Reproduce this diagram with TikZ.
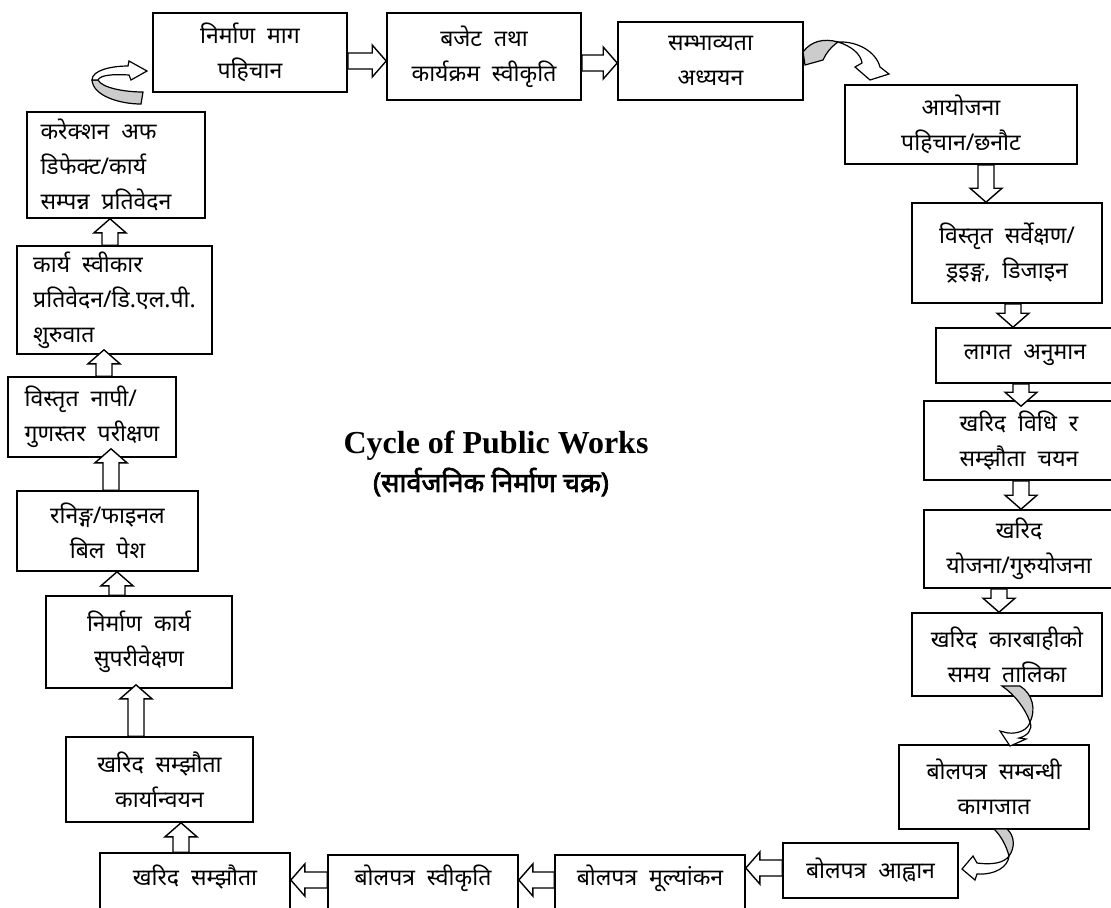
\documentclass[tikz,border=0pt]{standalone}
\usepackage{fontspec}
\setmainfont{Liberation Serif}
\newfontfamily\devfont[Script=Devanagari, WordSpace=2]{Noto Sans}
\newfontfamily\devbold[Script=Devanagari, FakeBold=2.5]{Noto Sans}
\usetikzlibrary{calc, fit}

\tikzset{
  box/.style={draw, line width=0.8pt, inner sep=0pt},
  boxtext/.style={align=center, font=\devfont\fontsize{11.5}{17.5}\selectfont},
  hollowarrow/.style={draw, line width=0.7pt, fill=white, line join=miter},
  curlback/.style={draw, line width=0.6pt, fill=gray!40},
  curlfront/.style={draw, line width=0.6pt, fill=white}
}

% hollow block arrow from #1 to the tip #2
\newcommand{\blockarr}[2]{%
  \coordinate (ba-s) at #1;
  \coordinate (ba-e) at #2;
  \coordinate (ba-h) at ($(ba-e)!7pt!(ba-s)$);
  \draw[hollowarrow] ($(ba-s)!4pt!90:(ba-e)$) -- ($(ba-h)!4pt!90:(ba-e)$)
    -- ($(ba-h)!8pt!90:(ba-e)$) -- (ba-e) -- ($(ba-h)!8pt!-90:(ba-e)$)
    -- ($(ba-h)!4pt!-90:(ba-e)$) -- ($(ba-s)!4pt!-90:(ba-e)$) -- cycle;}

\begin{document}
\begin{tikzpicture}[x=0.5pt, y=-0.5pt]
\useasboundingbox (0,0) rectangle (1111,907);

%top row
\node[box, fit={(153,13) (347,92)}, label={[boxtext]center:{निर्माण माग\\पहिचान}}] (b1) {};
\node[box, fit={(387,13) (581,100)}, label={[boxtext]center:{बजेट तथा\\कार्यक्रम स्वीकृति}}] (b2) {};
\node[box, fit={(618,22) (803,100)}, label={[boxtext]center:{सम्भाव्यता\\अध्ययन}}] (b3) {};

%right column
\node[box, fit={(845,85) (1077,164)}, label={[boxtext]center:{आयोजना\\पहिचान/छनौट}}] (r1) {};
\node[box, fit={(912,203) (1102,303)}, label={[boxtext]center:{विस्तृत सर्वेक्षण/\\ड्रइङ्ग, डिजाइन}}] (r2) {};
\node[box, fit={(936,328) (1114,383)}, label={[boxtext]center:{लागत अनुमान}}] (r3) {};
\node[box, fit={(924,401) (1114,480)}, label={[boxtext]center:{खरिद विधि र\\सम्झौता चयन}}] (r4) {};
\node[box, fit={(924,510) (1114,588)}, label={[boxtext]center:{खरिद\\योजना/गुरुयोजना}}] (r5) {};
\node[box, fit={(912,613) (1102,696)}, label={[boxtext]center:{खरिद कारबाहीको\\समय तालिका}}] (r6) {};
\node[box, fit={(899,745) (1089,829)}, label={[boxtext]center:{बोलपत्र सम्बन्धी\\कागजात}}] (r7) {};

%bottom row
\node[box, fit={(783,843) (958,898)}, label={[boxtext]center:{बोलपत्र आह्वान}}] (l1) {};
\node[box, fit={(555,855) (745,910)}, label={[boxtext, yshift=2pt]center:{बोलपत्र मूल्यांकन}}] (l2) {};
\node[box, fit={(328,855) (518,910)}, label={[boxtext, yshift=2pt]center:{बोलपत्र स्वीकृति}}] (l3) {};
\node[box, fit={(100,853) (290,910)}, label={[boxtext, yshift=2pt]center:{खरिद सम्झौता}}] (l4) {};

%left column
\node[box, fit={(66,737) (253,822)}, label={[boxtext]center:{खरिद सम्झौता\\कार्यान्वयन}}] (c1) {};
\node[box, fit={(46,596) (232,688)}, label={[boxtext]center:{निर्माण कार्य\\सुपरीवेक्षण}}] (c2) {};
\node[box, fit={(17,491) (198,571)}, label={[boxtext]center:{रनिङ्ग/फाइनल\\बिल पेश}}] (c3) {};
\node[box, fit={(8,377) (176,457)}, label={[boxtext, align=left]center:{विस्तृत नापी/\\गुणस्तर परीक्षण}}] (c4) {};
\node[box, fit={(17,246) (212,354)}, label={[boxtext, align=left]center:{कार्य स्वीकार\\प्रतिवेदन/डि.एल.पी.\\शुरुवात}}] (c5) {};
\node[box, fit={(27,112) (205,218)}, label={[boxtext, align=left, xshift=-5pt]center:{करेक्शन अफ\\डिफेक्ट/कार्य\\सम्पन्न प्रतिवेदन}}] (c6) {};

\node[font=\bfseries\fontsize{16}{19}\selectfont] (title) at (496,446) {Cycle of Public Works};
\node[font=\devbold\fontsize{13.5}{16}\selectfont] (subtitle) at (491,482) {(सार्वजनिक निर्माण चक्र)};

%block arrows
\blockarr{(b1.east |- 0,61)}{(b2.west |- 0,61)}
\blockarr{(b2.east |- 0,63)}{(b3.west |- 0,63)}
\blockarr{(r1.south -| 986,0)}{(r2.north -| 986,0)}
\blockarr{(r2.south -| 1013,0)}{(r3.north -| 1013,0)}
\blockarr{(r3.south -| 1021,0)}{($(r4.north -| 1021,0)+(0,6)$)}
\blockarr{(r4.south -| 1021,0)}{(r5.north -| 1021,0)}
\blockarr{(r5.south -| 999,0)}{(r6.north -| 999,0)}
\blockarr{(l1.west |- 0,868)}{(l2.east |- 0,868)}
\blockarr{(l2.west |- 0,880)}{(l3.east |- 0,880)}
\blockarr{(l3.west |- 0,880)}{(l4.east |- 0,880)}
\blockarr{(l4.north -| 181,0)}{(c1.south -| 181,0)}
\blockarr{(c1.north -| 136,0)}{($(c2.south -| 136,0)+(0,-4)$)}
\blockarr{(c2.north -| 117,0)}{(c3.south -| 117,0)}
\blockarr{(c3.north -| 111,0)}{($(c4.south -| 111,0)+(0,-9)$)}
\blockarr{(c4.north -| 104,0)}{($(c5.south -| 104,0)+(0,-5)$)}
\blockarr{(c5.north -| 110,0)}{(c6.south -| 110,0)}

%curved arrows
\draw[curlback] (803,52) .. controls (811,41) and (824,38) .. (838,42) .. controls (831,47) and (826,53) .. (823,60) -- (805,65) -- cycle;
\draw[curlfront] (838,42) .. controls (851,46) and (861,54) .. (862,63) -- (855,67) -- (870,80) -- (889,74) -- (880,67) .. controls (876,52) and (858,41) .. (838,42) -- cycle;

\draw[curlback] (143,92) .. controls (125,92) and (102,88) .. (98,80) -- (92,80) .. controls (93,96) and (120,104) .. (141,104) -- cycle;
\draw[curlfront] (92,80) .. controls (92,70) and (112,66) .. (128,66) -- (129,61) -- (147,71) -- (131,80) -- (129,75) .. controls (113,74) and (100,75) .. (98,80) -- cycle;

\draw[curlback] (1002,686) -- (1020,686) .. controls (1033,694) and (1036,710) .. (1030,722) .. controls (1025,708) and (1014,694) .. (1002,686) -- cycle;
\draw[curlfront] (1030,722) .. controls (1028,730) and (1018,734) .. (1008,733) -- (1000,731) -- (1010,746) -- (1026,739) -- (1019,738) .. controls (1027,736) and (1033,730) .. (1030,722) -- cycle;

\draw[curlback] (994,829) -- (1007,829) .. controls (1015,836) and (1015,848) .. (1009,856) .. controls (1006,845) and (1001,836) .. (994,829) -- cycle;
\draw[curlfront] (1009,856) .. controls (1004,863) and (992,865) .. (977,863) -- (973,856) -- (962,869) -- (975,880) -- (977,874) .. controls (995,875) and (1008,867) .. (1009,856) -- cycle;
\end{tikzpicture}
\end{document}
